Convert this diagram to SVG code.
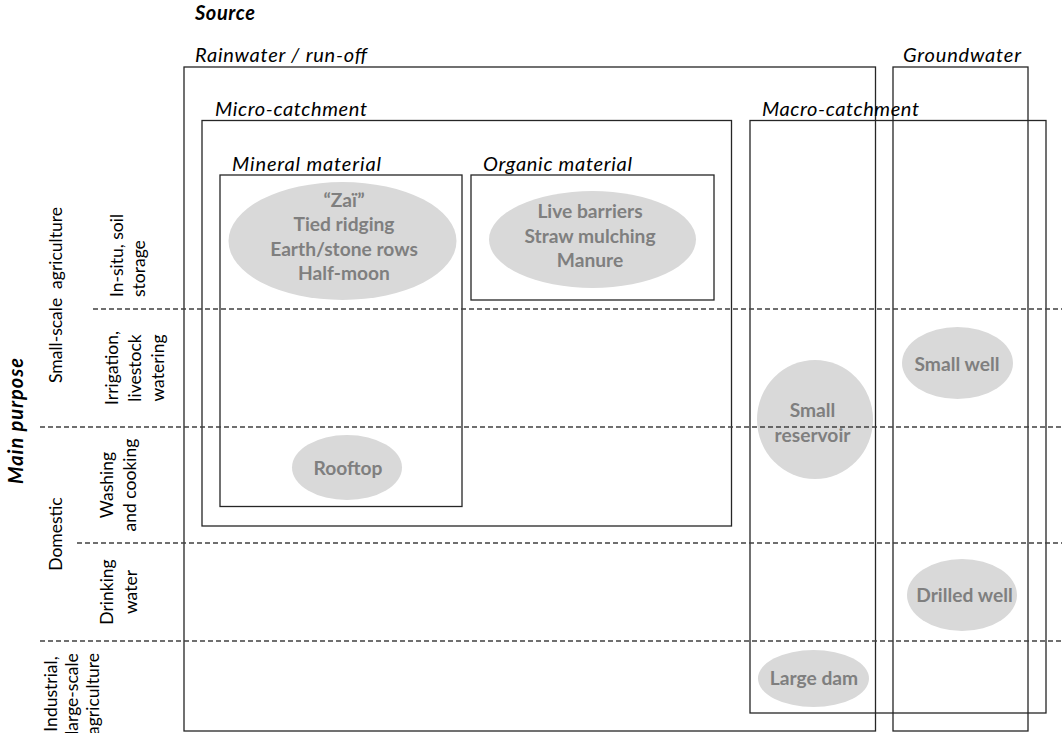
<svg xmlns="http://www.w3.org/2000/svg" width="1062" height="733" viewBox="0 0 1062 733">
<style>
.box{fill:none;stroke:#262626;stroke-width:1.3}
.div{stroke:#404040;stroke-width:1.3;stroke-dasharray:5 3;fill:none}
.blob{fill:#d9d9d9;stroke:none}
.bt{font-family:Lato,"Liberation Sans",sans-serif;font-weight:bold;font-size:19.2px;fill:#7f7f7f;text-anchor:middle}
.lab{font-family:Lato,"Liberation Sans",sans-serif;font-style:italic;font-size:20px;fill:#000}
.side{font-family:Lato,"Liberation Sans",sans-serif;font-size:17.5px;fill:#000;text-anchor:middle}
.title{font-family:Lato,"Liberation Sans",sans-serif;font-style:italic;font-weight:bold;font-size:20px;fill:#000}
</style>
<rect width="1062" height="733" fill="#fff"/>

<g id="titles">
  <text class="title" x="195" y="20" textLength="60" lengthAdjust="spacing">Source</text>
  <text class="title" transform="translate(23,421) rotate(-90)" text-anchor="middle" textLength="126" lengthAdjust="spacing">Main purpose</text>
</g>

<g id="row-labels">
  <text class="side" transform="translate(62,295) rotate(-90)" xml:space="preserve">Small-scale  agriculture</text>
  <text class="side" transform="translate(62,534) rotate(-90)">Domestic</text>
  <text class="side" transform="translate(123,297) rotate(-90)" style="text-anchor:start">In-situ, soil</text>
  <text class="side" transform="translate(145,297) rotate(-90)" style="text-anchor:start">storage</text>
  <text class="side" transform="translate(118,368) rotate(-90)">Irrigation,</text>
  <text class="side" transform="translate(141,368) rotate(-90)">livestock</text>
  <text class="side" transform="translate(164,368) rotate(-90)">watering</text>
  <text class="side" transform="translate(113,485) rotate(-90)">Washing</text>
  <text class="side" transform="translate(136,485) rotate(-90)">and cooking</text>
  <text class="side" transform="translate(113,592) rotate(-90)">Drinking</text>
  <text class="side" transform="translate(137,592) rotate(-90)">water</text>
  <text class="side" transform="translate(57,694) rotate(-90)">Industrial,</text>
  <text class="side" transform="translate(78,694) rotate(-90)">large-scale</text>
  <text class="side" transform="translate(99,694) rotate(-90)">agriculture</text>
</g>

<g id="rainwater">
  <rect class="box" x="184" y="67" width="691.5" height="664"/>
  <text class="lab" x="195" y="62" textLength="172" lengthAdjust="spacing">Rainwater / run-off</text>
</g>
<g id="groundwater">
  <rect class="box" x="893" y="67" width="135" height="664"/>
  <text class="lab" x="903" y="62" textLength="118" lengthAdjust="spacing">Groundwater</text>
</g>
<g id="micro-catchment">
  <rect class="box" x="202" y="120.5" width="529.5" height="405.5"/>
  <text class="lab" x="215" y="116" textLength="152" lengthAdjust="spacing">Micro-catchment</text>
</g>
<g id="macro-catchment">
  <rect class="box" x="750" y="120.5" width="296" height="592.5"/>
  <text class="lab" x="762" y="116" textLength="157" lengthAdjust="spacing">Macro-catchment</text>
</g>
<g id="mineral-material">
  <rect class="box" x="220" y="175" width="242" height="331.5"/>
  <text class="lab" x="232" y="170.5" textLength="149" lengthAdjust="spacing">Mineral material</text>
</g>
<g id="organic-material">
  <rect class="box" x="471" y="175" width="243" height="125"/>
  <text class="lab" x="483" y="170.5" textLength="149" lengthAdjust="spacing">Organic material</text>
</g>

<g id="mineral-techniques">
  <ellipse class="blob" cx="342.5" cy="241" rx="114" ry="59"/>
  <text class="bt" x="344" y="207">“Zaï”</text>
  <text class="bt" x="344" y="231">Tied ridging</text>
  <text class="bt" x="344" y="256">Earth/stone rows</text>
  <text class="bt" x="344" y="280">Half-moon</text>
</g>
<g id="organic-techniques">
  <ellipse class="blob" cx="592.5" cy="239.5" rx="103.5" ry="48.5"/>
  <text class="bt" x="590" y="218">Live barriers</text>
  <text class="bt" x="590" y="242.5">Straw mulching</text>
  <text class="bt" x="590" y="267">Manure</text>
</g>
<g id="rooftop">
  <ellipse class="blob" cx="347" cy="467.5" rx="55" ry="32.5"/>
  <text class="bt" x="348" y="475">Rooftop</text>
</g>
<g id="small-reservoir">
  <ellipse class="blob" cx="815" cy="419.5" rx="58" ry="59.5"/>
  <text class="bt" x="812.5" y="417">Small</text>
  <text class="bt" x="812.5" y="441.5">reservoir</text>
</g>
<g id="small-well">
  <ellipse class="blob" cx="957.5" cy="363" rx="55.5" ry="36"/>
  <text class="bt" x="957" y="370.5">Small well</text>
</g>
<g id="drilled-well">
  <ellipse class="blob" cx="962" cy="595" rx="55" ry="36"/>
  <text class="bt" x="964.5" y="601.5">Drilled well</text>
</g>
<g id="large-dam">
  <ellipse class="blob" cx="813.5" cy="678.5" rx="55.5" ry="28.5"/>
  <text class="bt" x="814" y="685">Large dam</text>
</g>

<g id="connectors">
  <line class="div" x1="93" y1="309" x2="1062" y2="309"/>
  <line class="div" x1="40" y1="427" x2="1062" y2="427"/>
  <line class="div" x1="77" y1="543" x2="1062" y2="543"/>
  <line class="div" x1="40" y1="641" x2="1062" y2="641"/>
</g>
</svg>
